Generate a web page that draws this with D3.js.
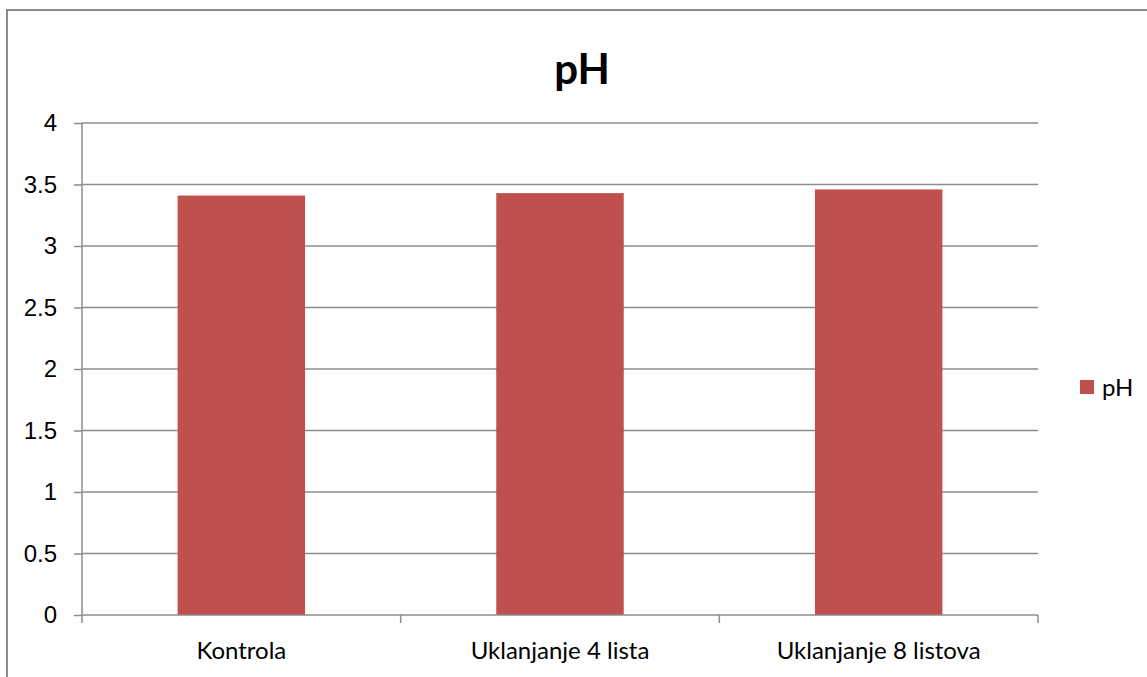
<html>
<head>
<meta charset="UTF-8">
<title>pH</title>
<script src="https://d3js.org/d3.v7.min.js"></script>
<style>
  body { margin: 0; background: #fff; }
  svg { font-family: Lato, "Open Sans", sans-serif; }
  .grid line { stroke: #8c8c8c; stroke-width: 1.5; }
  .axis path, .axis line { stroke: #8c8c8c; stroke-width: 1.5; }
  .axis text { fill: #000; font-size: 24px; }
  .title { font-size: 42px; font-weight: bold; }
  .legend { font-size: 24px; }
</style>
</head>
<body>
<svg width="1147" height="677"></svg>
<script>
// values
var categories = ["Kontrola", "Uklanjanje 4 lista", "Uklanjanje 8 listova"];
var phValues = [3.41, 3.43, 3.46];
var yTicks = [0, 0.5, 1, 1.5, 2, 2.5, 3, 3.5, 4];

var svg = d3.select("svg");

// chart border
svg.append("rect")
    .attr("x", 7)
    .attr("y", 10)
    .attr("width", 1150)
    .attr("height", 700)
    .attr("fill", "none")
    .attr("stroke", "#8c8c8c")
    .attr("stroke-width", 2);

var plotLeft = 82, plotRight = 1038, plotTop = 123, plotBottom = 615;

var x = d3.scaleBand()
    .domain(categories)
    .range([plotLeft, plotRight])
    .paddingInner(0.6)
    .paddingOuter(0.3);

var y = d3.scaleLinear().domain([0, 4]).range([plotBottom, plotTop]);

// gridlines
svg.append("g")
    .attr("class", "grid")
    .selectAll("line")
    .data(yTicks.filter(d => d > 0))
    .enter()
    .append("line")
    .attr("x1", plotLeft)
    .attr("x2", plotRight)
    .attr("y1", d => y(d))
    .attr("y2", d => y(d));

// bars
svg.append("g")
    .selectAll("rect")
    .data(phValues)
    .enter()
    .append("rect")
    .attr("x", (d, i) => x(categories[i]))
    .attr("y", d => y(d))
    .attr("width", x.bandwidth())
    .attr("height", d => plotBottom - y(d))
    .attr("fill", "#c0504d");

// y axis
var yAxis = d3.axisLeft(y)
    .tickValues(yTicks)
    .tickFormat(d3.format("~g"))
    .tickSize(8)
    .tickPadding(17);

svg.append("g")
    .attr("class", "axis")
    .attr("transform", "translate(" + plotLeft + ",0)")
    .call(yAxis)
    .call(g => g.select(".domain").attr("d", "M0," + plotTop + "V" + plotBottom));

// x axis, ticks between categories
var boundaries = d3.range(categories.length + 1)
    .map(i => plotLeft + i * (plotRight - plotLeft) / categories.length);

var xg = svg.append("g").attr("class", "axis");
xg.append("line")
    .attr("x1", plotLeft).attr("x2", plotRight)
    .attr("y1", plotBottom).attr("y2", plotBottom);
xg.selectAll(".tk")
    .data(boundaries)
    .enter()
    .append("line")
    .attr("class", "tk")
    .attr("x1", d => d).attr("x2", d => d)
    .attr("y1", plotBottom).attr("y2", plotBottom + 8);
xg.selectAll("text")
    .data(categories)
    .enter()
    .append("text")
    .attr("x", d => x(d) + x.bandwidth() / 2)
    .attr("y", 659)
    .attr("text-anchor", "middle")
    .text(d => d);

// title
svg.append("text")
    .attr("class", "title")
    .attr("x", 582)
    .attr("y", 84)
    .attr("text-anchor", "middle")
    .text("pH");

// legend
svg.append("rect")
    .attr("x", 1080)
    .attr("y", 380)
    .attr("width", 14)
    .attr("height", 14)
    .attr("fill", "#c0504d");

svg.append("text")
    .attr("class", "legend")
    .attr("x", 1102)
    .attr("y", 396)
    .text("pH");
</script>
</body>
</html>
